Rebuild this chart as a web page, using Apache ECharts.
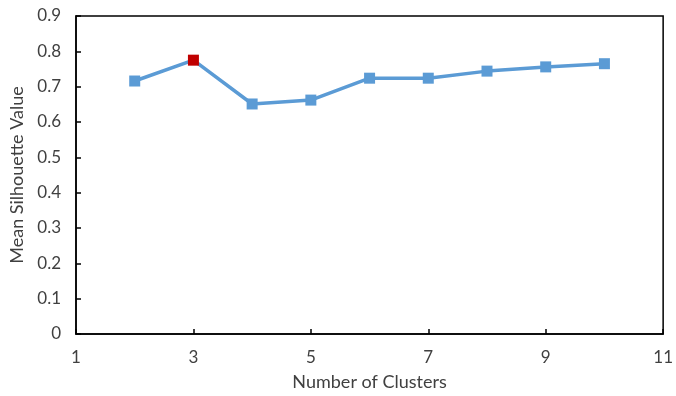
<!DOCTYPE html>
<html><head><meta charset="utf-8">
<script src="https://cdn.jsdelivr.net/npm/echarts@6/dist/echarts.min.js"></script>
<style>html,body{margin:0;padding:0;background:#fff}#c{width:676px;height:396px}</style>
</head><body><div id="c"></div>
<script>
const clusters = [2, 3, 4, 5, 6, 7, 8, 9, 10];
const silhouette = [0.716, 0.775, 0.651, 0.662, 0.724, 0.724, 0.744, 0.756, 0.765];
const highlightIndex = 1;
const xTicks = [1, 3, 5, 7, 9, 11];
const yTicks = [0, 0.1, 0.2, 0.3, 0.4, 0.5, 0.6, 0.7, 0.8, 0.9];

const font = 'Lato, "Open Sans", sans-serif';
const chart = echarts.init(document.getElementById('c'), null, {renderer: 'canvas'});
chart.setOption({
  animation: false,
  grid: {left: 76, right: 9, top: 16, bottom: 59, show: true, borderColor: '#000', borderWidth: 1.5},
  xAxis: {
    type: 'value', min: xTicks[0], max: xTicks[xTicks.length - 1], interval: 2,
    name: 'Number of Clusters', nameLocation: 'middle', nameGap: 39,
    nameTextStyle: {fontFamily: font, fontSize: 18, color: '#404040'},
    axisLine: {lineStyle: {color: '#000', width: 1.5}},
    axisTick: {inside: true, length: 5, lineStyle: {color: '#000', width: 1.5}},
    axisLabel: {fontFamily: font, fontSize: 17, color: '#404040', margin: 15},
    splitLine: {show: false}
  },
  yAxis: {
    type: 'value', min: yTicks[0], max: yTicks[yTicks.length - 1], interval: 0.1,
    name: 'Mean Silhouette Value', nameLocation: 'middle', nameGap: 47,
    nameTextStyle: {fontFamily: font, fontSize: 18, color: '#404040'},
    axisLine: {show: true, lineStyle: {color: '#000', width: 1.5}},
    axisTick: {show: true, inside: true, length: 5, lineStyle: {color: '#000', width: 1.5}},
    axisLabel: {fontFamily: font, fontSize: 17, color: '#404040', margin: 15,
      formatter: v => (Math.round(v * 10) / 10).toString()},
    splitLine: {show: false}
  },
  series: [{
    type: 'line',
    data: clusters.map((c, i) => ({
      value: [c, silhouette[i]],
      itemStyle: i === highlightIndex ? {color: '#C00000', borderColor: '#C00000'} : undefined
    })),
    symbol: 'rect', symbolSize: 11,
    lineStyle: {color: '#5B9BD5', width: 3.5},
    itemStyle: {color: '#5B9BD5', borderWidth: 0}
  }]
});
</script></body></html>
